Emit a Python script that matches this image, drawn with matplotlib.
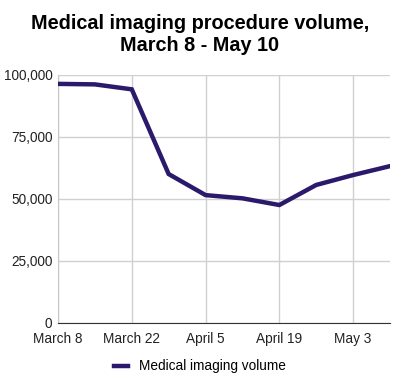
import matplotlib.pyplot as plt
from matplotlib.ticker import FuncFormatter

plt.rcParams['font.family'] = ['Liberation Sans', 'DejaVu Sans']

# weekly volumes, March 8 - May 10
weeks = list(range(10))
volume = [96400, 96200, 94200, 60000, 51500, 50200, 47500, 55600, 59600, 63200]
tick_pos = [0, 2, 4, 6, 8]
tick_labels = ["March 8", "March 22", "April 5", "April 19", "May 3"]

line_color = "#2b1a6b"

fig = plt.figure(figsize=(4, 3.79), dpi=100)
ax = fig.add_axes([0.145, 0.1486, 0.83, 0.6536])

ax.plot(weeks, volume, color=line_color, linewidth=3.2, solid_joinstyle='miter',
        label="Medical imaging volume", zorder=3)

ax.set_xlim(0, 9)
ax.set_ylim(0, 100000)
ax.set_yticks([0, 25000, 50000, 75000, 100000])
ax.yaxis.set_major_formatter(FuncFormatter(lambda v, p: f"{int(v):,}"))
ax.set_xticks(tick_pos)
ax.set_xticklabels(tick_labels)

ax.grid(True, color="#d0d0d0", linewidth=1)
ax.set_axisbelow(True)
for s in ['top', 'right']:
    ax.spines[s].set_visible(False)
ax.spines['left'].set_color("#c8c8c8")
ax.spines['bottom'].set_color("#333333")
ax.tick_params(length=0, labelsize=9.8, colors="#222222", pad=4)
ax.tick_params(axis='x', pad=7)

fig.text(0.5, 0.962, "Medical imaging procedure volume,\nMarch 8 - May 10",
         ha='center', va='top', fontsize=14.3, fontweight='bold', linespacing=1.2)

fig.legend(loc='center', bbox_to_anchor=(0.5, 0.033), frameon=False,
           fontsize=9.8, handlelength=1.0, handletextpad=0.8)

fig.savefig("out.png", dpi=100)
